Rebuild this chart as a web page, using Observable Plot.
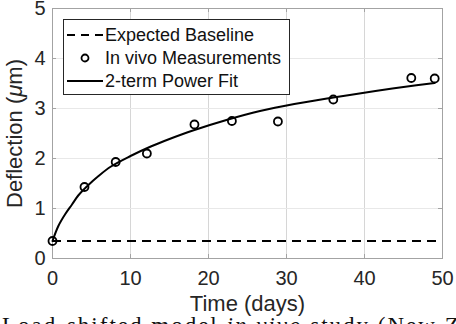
<!DOCTYPE html>
<html>
<head>
<meta charset="utf-8">
<script src="https://cdn.jsdelivr.net/npm/d3@7"></script>
<script src="https://cdn.jsdelivr.net/npm/@observablehq/plot@0.6"></script>
<style>
  html, body { margin: 0; padding: 0; background: white; }
  #wrap { position: relative; width: 456px; height: 324px; overflow: hidden; background: white; }
  #legend { position: absolute; left: 63px; top: 19px; width: 225px; height: 74px; border: 1px solid #262626; background: white; font-family: "Liberation Sans", Arial, sans-serif; font-size: 18px; color: #111; }
  .row { position: absolute; left: 3px; height: 22px; display: flex; align-items: center; }
  .row svg { display: block; }
  .row span { margin-left: 2px; white-space: nowrap; }
  #caption { position: absolute; left: 2px; top: 314px; font-family: "Liberation Serif", "Times New Roman", serif; font-size: 23px; line-height: 23px; white-space: nowrap; letter-spacing: 2px; color: #111; }
</style>
</head>
<body>
<div id="wrap"></div>
<script>
const days = [0, 4.1, 8.1, 12.1, 18.2, 23.0, 28.9, 36.0, 46.0, 49.0];
const deflection = [0.35, 1.43, 1.93, 2.10, 2.68, 2.75, 2.74, 3.18, 3.61, 3.60];
// Power fit curve
const fitDays = [0, 0.75, 1.6, 2.5, 3.3, 4.6, 5.9, 7.5, 10, 12.6, 15, 18, 22.3, 26.6, 31, 36, 41.4, 45, 49];
const fitValues = [0.35, 0.65, 0.88, 1.08, 1.26, 1.47, 1.65, 1.84, 2.05, 2.24, 2.39, 2.56, 2.77, 2.95, 3.09, 3.22, 3.35, 3.43, 3.51];
const baseline = 0.35;
const xTicks = [0, 10, 20, 30, 40, 50];
const yTicks = [0, 1, 2, 3, 4, 5];
const legendLabels = ["Expected Baseline", "In vivo Measurements", "2-term Power Fit"];
const xLabel = "Time (days)";
const yLabel = "Deflection (μm)";
const captionText = "Load-shifted model <i>in vivo</i> study (New Zealand";

const points = days.map((d, i) => ({day: d, value: deflection[i]}));
const fit = fitDays.map((d, i) => ({day: d, value: fitValues[i]}));
const axisColor = "#a3a3a3";

const chart = Plot.plot({
  width: 456,
  height: 312,
  marginLeft: 52,
  marginRight: 14,
  marginTop: 8,
  marginBottom: 54,
  x: {domain: [0, 50]},
  y: {domain: [0, 5]},
  style: {fontFamily: "'Liberation Sans', Arial, sans-serif", color: "#262626", background: "white", overflow: "visible"},
  marks: [
    Plot.gridX(xTicks.slice(1, -1), {stroke: "#d6d6d6", strokeOpacity: 1}),
    Plot.gridY(yTicks.slice(1, -1), {stroke: "#e8e8e8", strokeOpacity: 1}),
    Plot.frame({stroke: axisColor}),
    Plot.tickX(xTicks, {x: d => d, insetTop: 246, stroke: axisColor}),
    Plot.tickX(xTicks, {x: d => d, insetBottom: 246, stroke: axisColor}),
    Plot.tickY(yTicks, {y: d => d, insetRight: 386, stroke: axisColor}),
    Plot.tickY(yTicks, {y: d => d, insetLeft: 386, stroke: axisColor}),
    Plot.axisX({ticks: xTicks, tickFormat: d => String(d), tickSize: 0, tickPadding: 12, fontSize: 20, label: xLabel, labelAnchor: "center", labelOffset: 52, labelArrow: "none"}),
    Plot.axisY({ticks: yTicks, tickFormat: d => String(d), tickSize: 0, tickPadding: 7, fontSize: 20, label: yLabel, labelAnchor: "center", labelOffset: 46, labelArrow: "none"}),
    Plot.ruleY([baseline], {stroke: "black", strokeWidth: 2, strokeDasharray: "9,6"}),
    Plot.line(fit, {x: "day", y: "value", stroke: "black", strokeWidth: 2, curve: "catmull-rom"}),
    Plot.dot(points, {x: "day", y: "value", r: 4, stroke: "black", strokeWidth: 1.8, fill: "none"})
  ]
});

// axis label font size and italic mu
chart.querySelectorAll('g[aria-label="x-axis label"] text, g[aria-label="y-axis label"] text').forEach(t => {
  t.setAttribute("font-size", 22);
  t.style.fontSize = "22px";
});
const yl = chart.querySelector('g[aria-label="y-axis label"] text');
if (yl) {
  const txt = yl.textContent;
  const idx = txt.indexOf("μ");
  if (idx >= 0) {
    yl.textContent = "";
    const ns = "http://www.w3.org/2000/svg";
    const a = document.createElementNS(ns, "tspan"); a.textContent = txt.slice(0, idx);
    const b = document.createElementNS(ns, "tspan"); b.textContent = "μ"; b.setAttribute("font-style", "italic");
    const c = document.createElementNS(ns, "tspan"); c.textContent = txt.slice(idx + 1);
    yl.append(a, b, c);
  }
}

const wrap = document.getElementById("wrap");
wrap.appendChild(chart);

// legend
const legend = document.createElement("div");
legend.id = "legend";
const samples = [
  '<svg width="36" height="10"><line x1="0" y1="5" x2="36" y2="5" stroke="black" stroke-width="2" stroke-dasharray="8,6"/></svg>',
  '<svg width="36" height="10"><circle cx="18" cy="5" r="3.5" stroke="black" stroke-width="1.8" fill="none"/></svg>',
  '<svg width="36" height="10"><line x1="0" y1="5" x2="36" y2="5" stroke="black" stroke-width="2"/></svg>'
];
legendLabels.forEach((lab, i) => {
  const row = document.createElement("div");
  row.className = "row";
  row.style.top = (4 + i * 23) + "px";
  row.innerHTML = samples[i] + "<span>" + lab + "</span>";
  legend.appendChild(row);
});
wrap.appendChild(legend);

const cap = document.createElement("div");
cap.id = "caption";
cap.innerHTML = captionText;
wrap.appendChild(cap);
</script>
</body>
</html>
